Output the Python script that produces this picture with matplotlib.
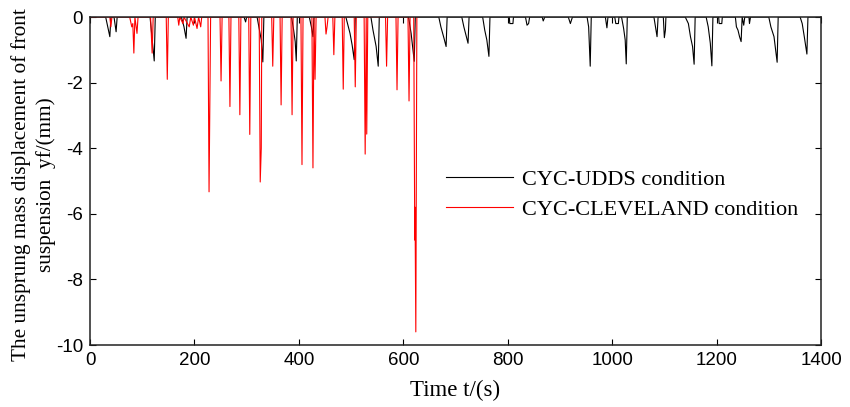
import matplotlib
matplotlib.use("Agg")
import matplotlib.pyplot as plt
import numpy as np

udds_t = [0, 30, 34, 38, 40, 46, 50, 52,
          115, 118, 123, 125,
          175, 180, 184, 186,
          295, 298, 300,
          320, 324, 328, 331, 333,
          386, 390, 393, 395, 397,
          420, 424, 427, 429,
          490, 494, 498, 502, 506, 508,
          538, 542, 548, 552, 554,
          610, 615, 621, 623,
          668, 672, 678, 682, 684,
          712, 716, 720, 724, 726,
          752, 756, 760, 764, 766,
          803, 804, 810, 811,
          834, 837, 840, 842,
          866, 868, 871,
          916, 920, 924,
          952, 955, 958, 960,
          987, 990, 992,
          1005, 1007, 1012, 1013,
          1018, 1022, 1025, 1027, 1029,
          1080, 1083, 1086, 1088,
          1098, 1100, 1102, 1103,
          1140, 1146, 1150, 1154, 1157, 1159,
          1180, 1184, 1188, 1191, 1193,
          1204, 1205, 1210, 1211,
          1236, 1238, 1241, 1244, 1247, 1249, 1252, 1254,
          1262, 1263, 1265,
          1300, 1304, 1310, 1316, 1318,
          1360, 1364, 1368, 1373, 1375,
          1400]
udds_y = [0, 0, -0.3, -0.6, 0, 0, -0.45, 0,
          0, -0.5, -1.34, 0,
          0, -0.3, -0.65, 0,
          0, -0.15, 0,
          0, -0.35, -0.7, -1.37, 0,
          0, -0.4, -0.75, -1.34, 0,
          0, -0.3, -0.6, 0,
          0, -0.25, -0.5, -0.85, -1.3, 0,
          0, -0.4, -0.9, -1.5, 0,
          0, -0.5, -1.35, 0,
          0, -0.3, -0.65, -0.9, 0,
          0, -0.3, -0.55, -0.8, 0,
          0, -0.4, -0.7, -1.2, 0,
          0, -0.2, -0.2, 0,
          0, -0.25, -0.2, 0,
          0, -0.12, 0,
          0, -0.2, 0,
          0, -0.3, -1.5, 0,
          0, -0.33, 0,
          0, -0.2, -0.2, 0,
          0, -0.35, -0.7, -1.43, 0,
          0, -0.3, -0.6, 0,
          0, -0.63, -0.4, 0,
          0, -0.2, -0.6, -0.9, -1.44, 0,
          0, -0.3, -0.8, -1.49, 0,
          0, -0.2, -0.2, 0,
          0, -0.3, -0.4, -0.6, -0.75, 0, -0.25, 0,
          0, -0.2, 0,
          0, -0.3, -0.6, -1.38, 0,
          0, -0.2, -0.6, -1.13, 0,
          0]

cle_t = [0, 38, 40, 42,
         76, 80, 82, 84, 86, 90, 92,
         116, 119, 121,
         146, 148, 150,
         168, 170, 172, 178, 180, 190, 193, 198, 200, 205, 208, 212, 214,
         226, 228, 231,
         249, 251, 253,
         266, 268, 270,
         285, 287, 289,
         304, 306, 308,
         324, 326, 328, 329,
         348, 350, 352,
         364, 366, 368,
         385, 387, 389,
         404, 406, 408,
         425, 427, 429, 431, 433,
         450, 452, 454, 456,
         465, 467, 469,
         483, 485, 487,
         506, 508, 510,
         525, 527, 529, 530, 532,
         566, 568, 570,
         586, 588, 590,
         609, 611, 613,
         620, 622, 622.5, 624, 626, 630]
cle_y = [0, 0, -0.3, 0,
         0, -0.3, -0.2, -1.1, 0, -0.5, 0,
         0, -1.1, 0,
         0, -1.9, 0,
         0, -0.25, 0, -0.2, 0, -0.3, 0, -0.25, 0, -0.35, 0, -0.3, 0,
         0, -5.33, 0,
         0, -1.95, 0,
         0, -2.73, 0,
         0, -2.98, 0,
         0, -3.58, 0,
         0, -5.03, -4.0, 0,
         0, -1.5, 0,
         0, -2.68, 0,
         0, -2.98, 0,
         0, -4.5, 0,
         0, -4.6, 0, -1.9, 0,
         0, -0.52, -0.3, 0,
         0, -1.15, 0,
         0, -2.2, 0,
         0, -2.13, 0,
         0, -4.18, 0, -3.57, 0,
         0, -1.5, 0,
         0, -2.22, 0,
         0, -2.56, 0,
         0, -6.8, -5.8, -9.6, 0, 0]

series_labels = ["CYC-UDDS condition", "CYC-CLEVELAND condition"]
x_ticks = [0, 200, 400, 600, 800, 1000, 1200, 1400]
y_ticks = [0, -2, -4, -6, -8, -10]

plt.rcParams['axes.unicode_minus'] = False
SERIF = ['Liberation Serif', 'DejaVu Serif']
SANS = ['Liberation Sans', 'DejaVu Sans']

fig = plt.figure(figsize=(8.5, 4.07), dpi=100)
ax = fig.add_axes([90/850, 1-345/407, (821-90)/850, (345-17)/407])

l1, = ax.plot(udds_t, udds_y, color='black', lw=0.8, label=series_labels[0])
l2, = ax.plot(cle_t, cle_y, color='#ff0000', lw=0.8, label=series_labels[1])

ax.set_xlim(0, 1400)
ax.set_ylim(-10, 0)
ax.set_xticks(x_ticks)
ax.set_yticks(y_ticks)
ax.tick_params(direction='in', top=True, right=True, length=4.5, width=0.8,
               labelsize=13.5, pad=5)
for lab in ax.get_xticklabels() + ax.get_yticklabels():
    lab.set_family(SANS)
for s in ax.spines.values():
    s.set_linewidth(1.1)
    s.set_color('#222222')

ax.set_xlabel("Time t/(s)", family=SERIF, fontsize=16.5, labelpad=8)
ax.set_ylabel("The unsprung mass displacement of front\nsuspension  yf/(mm)",
              family=SERIF, fontsize=15.3, linespacing=1.35, ha='center')
ax.yaxis.set_label_coords(-0.046, 0.488)

leg = ax.legend(handles=[l1, l2], loc='upper left',
                bbox_to_anchor=(446/850, 1-169/407), bbox_transform=fig.transFigure,
                frameon=False, prop={'family': SERIF, 'size': 16},
                handlelength=3.0, handletextpad=0.42, labelspacing=0.45,
                borderpad=0, borderaxespad=0)

fig.savefig("out.png", dpi=100)
